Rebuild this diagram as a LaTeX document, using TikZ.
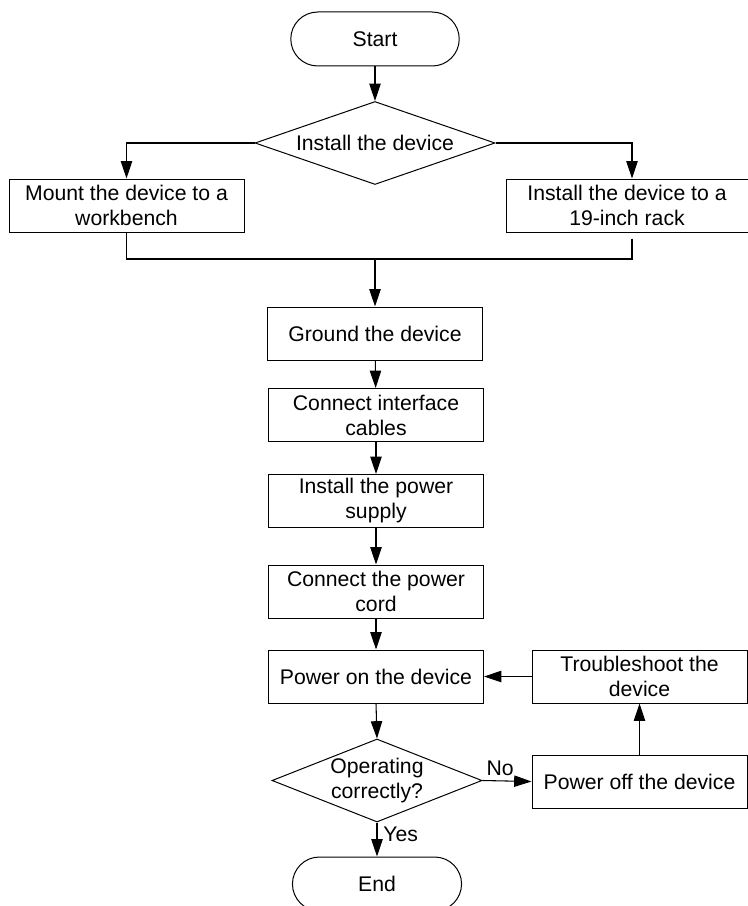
\documentclass[tikz,border=0pt]{standalone}
\usepackage{fontspec}
\setmainfont{Liberation Sans}
\usetikzlibrary{shapes.geometric,shapes.misc,arrows.meta}

\begin{document}
\begin{tikzpicture}[x=0.75pt,y=-0.75pt,
    font=\fontsize{15.9}{18.75}\selectfont,
    stepbox/.style={draw,rectangle,line width=0.75pt,minimum width=161.25pt,minimum height=39.75pt,align=center,inner sep=2pt},
    terminal/.style={draw,rounded rectangle,line width=0.75pt,minimum width=133pt,minimum height=40.5pt},
    decision/.style={draw,diamond,line width=0.75pt,inner sep=0pt,align=center,minimum height=62.25pt},
    arr/.style={-{Triangle[length=13pt,width=8.5pt]},line width=0.8pt}]
    \useasboundingbox (0,0) rectangle (748,906);
    \clip (0,0) rectangle (748,906);

    % Start and first choice
    \node[terminal] (start) at (375,39) {Start};
    \node[decision,aspect=2.9,minimum width=180pt] (install) at (375,143) {Install the device};
    \node[stepbox,minimum width=176.25pt] (bench) at (126.5,205.5) {Mount the device to a\\workbench};
    \node[stepbox,minimum width=181.5pt] (rack) at (627,205.5) {Install the device to a\\19-inch rack};

    \draw[arr] (start.south) -- (install.north);
    \draw[arr] (install.west) -| (bench.north);
    \draw[arr] (install.east) -| ([xshift=3.75pt]rack.north);

    % Merge of both ways
    \coordinate (merge) at (375,259);
    \draw[line width=0.8pt] (bench.south) |- (merge);
    \draw[line width=0.8pt] ([xshift=3.75pt,yshift=-4.5pt]rack.south) |- (merge);

    % Main steps
    \node[stepbox] (ground) at (375,333.5) {Ground the device};
    \node[stepbox] (cables) at (376,415) {Connect interface\\cables};
    \node[stepbox] (supply) at (376,501) {Install the power\\supply};
    \node[stepbox] (cord) at (376,591.5) {Connect the power\\cord};
    \node[stepbox] (poweron) at (376,676.5) {Power on the device};

    \draw[arr] (merge) -- (ground.north);
    \draw[arr] (ground) -- (cables);
    \draw[arr] (cables) -- (supply);
    \draw[arr] (supply) -- (cord);
    \draw[arr] (cord) -- (poweron);

    % Check and loop back
    \node[decision,aspect=2.5,minimum width=157.5pt] (check) at (377,780.5) {Operating\\correctly?};
    \node[stepbox] (poweroff) at (639.5,781.5) {Power off the device};
    \node[stepbox] (trouble) at (639.5,676.5) {Troubleshoot the\\device};
    \node[terminal,minimum width=133.5pt] (end) at (377,884) {End};

    \draw[arr] (poweron.south) -- (check.north);
    \draw[arr] (check.east) -- (poweroff.west) node[pos=0.36,above] {No};
    \draw[arr] (poweroff.north) -- (trouble.south);
    \draw[arr] (trouble.west) -- (poweron.east);
    \draw[arr] (check.south) -- (end.north) node[pos=0.35,right=1pt] {Yes};
\end{tikzpicture}
\end{document}
